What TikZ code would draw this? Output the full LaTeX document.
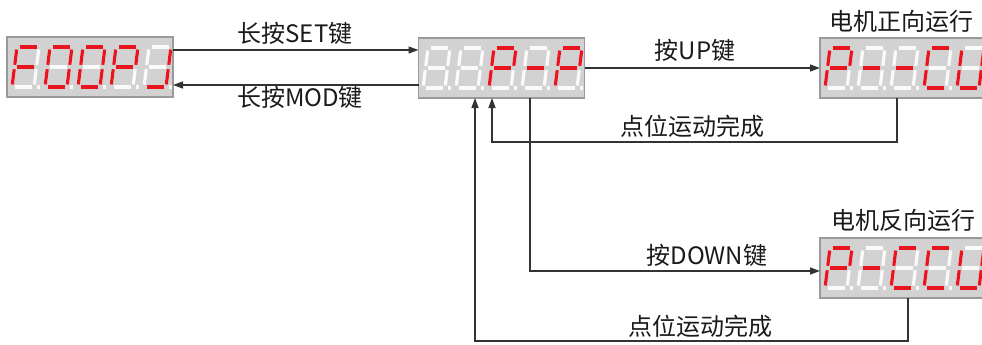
\documentclass[tikz,border=0pt]{standalone}
\usepackage{fontspec}
\newfontfamily\cjk{Noto Sans CJK SC}
\usetikzlibrary{arrows.meta}
\definecolor{boxfill}{HTML}{D2D2D2}
\definecolor{boxline}{HTML}{9A9A9A}
\definecolor{segred}{HTML}{E8141E}
\definecolor{segwhite}{HTML}{FAFAFA}
\definecolor{lineclr}{HTML}{333333}
\definecolor{txtclr}{HTML}{1A1A1A}
\tikzset{
  dispbox/.style={draw=boxline, fill=boxfill, line width=1.2pt, minimum width=166pt, minimum height=60pt, inner sep=0pt, outer sep=0pt},
  segoff/.style={draw=segwhite, line width=3.2pt},
  segon/.style={draw=segred, line width=3.2pt},
  arr/.style={draw=lineclr, line width=1.4pt, -{Triangle[length=10pt,width=7pt]}},
  lab/.style={font=\cjk\fontsize{24}{26}\selectfont, text=txtclr, inner sep=0pt}
}
\newcommand\drawseg[2]{%
  \if a#2\draw[#1] (2.5,40)--(19.5,40);\fi
  \if b#2\draw[#1] (22,37.5)--(22,22.2);\fi
  \if c#2\draw[#1] (22,17.8)--(22,2.5);\fi
  \if d#2\draw[#1] (2.5,0)--(19.5,0);\fi
  \if e#2\draw[#1] (0,2.5)--(0,17.8);\fi
  \if f#2\draw[#1] (0,22.2)--(0,37.5);\fi
  \if g#2\draw[#1] (2.5,20)--(19.5,20);\fi
  \if p#2\draw[#1] (24.6,0)--(27.6,0);\fi
}
\newcommand\segdig[3]{%
  \begin{scope}[shift={(#1,#2)},x=1pt,y=1pt,xslant=0.125]
    \foreach \s in {a,b,c,d,e,f,g,p}{\drawseg{segoff}{\s}}
    \foreach \s in {#3}{\drawseg{segon}{\s}}
  \end{scope}}
\begin{document}
\begin{tikzpicture}[x=1pt,y=-1pt]
\useasboundingbox (0,0) rectangle (982,345);
\clip (0,0) rectangle (982,345);
% display boxes
\node[dispbox] (b1) at (90,67) {};
\node[dispbox] (b2) at (501.5,68) {};
\node[dispbox] (b3) at (903,68) {};
\node[dispbox] (b4) at (903,268) {};
% digits: F 0 0 P J
\segdig{12}{87}{a,e,f,g}
\segdig{45}{87}{a,b,c,d,e,f}
\segdig{78}{87}{a,b,c,d,e,f}
\segdig{111}{87}{a,b,e,f,g}
\segdig{144}{87}{b,c,d}
% 8.8.P-P
\segdig{423}{88}{x}
\segdig{456}{88}{x}
\segdig{489}{88}{a,b,e,f,g}
\segdig{522}{88}{g}
\segdig{555}{88}{a,b,e,f,g}
% P--CU
\segdig{825}{88}{a,b,e,f,g}
\segdig{858}{88}{g}
\segdig{891}{88}{g}
\segdig{924}{88}{a,d,e,f}
\segdig{957}{88}{b,c,d,e,f}
% P-CCU
\segdig{825}{288}{a,b,e,f,g}
\segdig{858}{288}{g}
\segdig{891}{288}{a,d,e,f}
\segdig{924}{288}{a,d,e,f}
\segdig{957}{288}{b,c,d,e,f}
% labels
\node[lab] (l1) at (295,33) {长按SET键};
\node[lab] (l2) at (300,97) {长按MOD键};
\node[lab] (l3) at (695,50) {按UP键};
\node[lab] (l4) at (901,21) {电机正向运行};
\node[lab] (l5) at (903,220) {电机反向运行};
\node[lab] (l6) at (692,126) {点位运动完成};
\node[lab] (l7) at (707,255) {按DOWN键};
\node[lab] (l8) at (700,326) {点位运动完成};
% helper coordinates
\coordinate (yset) at (0,50);
\coordinate (ymod) at (0,85);
\coordinate (r1a) at (897,142);
\coordinate (r1b) at (492,142);
\coordinate (d1) at (530,271);
\coordinate (r2a) at (908,341);
\coordinate (r2b) at (475,341);
% connectors
\draw[arr] (b1.east |- yset) -- (b2.west |- yset);
\draw[arr] (b2.west |- ymod) -- (b1.east |- ymod);
\draw[arr] (b2.east) -- (b3.west);
\draw[arr] (b3.south -| r1a) -- (r1a) -- (r1b) -- (b2.south -| r1b);
\draw[arr] (b2.south -| d1) -- (d1) -- (b4.west |- d1);
\draw[arr] (b4.south -| r2a) -- (r2a) -- (r2b) -- (b2.south -| r2b);
\end{tikzpicture}
\end{document}
